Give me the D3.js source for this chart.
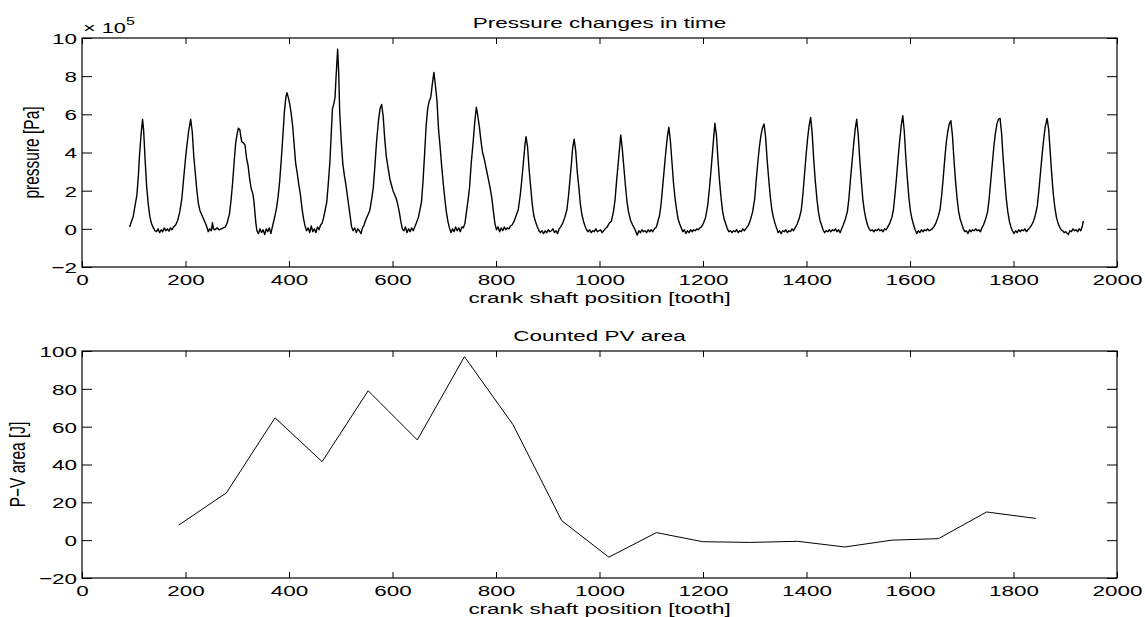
<!DOCTYPE html>
<html>
<head>
<meta charset="utf-8">
<script src="https://cdn.jsdelivr.net/npm/d3@7"></script>
<style>
body { margin: 0; background: #fff; }
text { font-family: "Liberation Sans", Arial, sans-serif; fill: #000; }
</style>
</head>
<body>
<div id="my_dataviz"></div>
<script>
// crank shaft position [tooth] vs pressure [x 10^5 Pa]
var pressureTrace = [
[92,0.1],[95,0.35],[99,0.65],[103,1.3],[106,1.75],[109,2.8],[111,3.8],[114,4.9],[117,5.74],[119,5.2],[122,3.6],[125,2.2],[128,1.3],[131,0.65],[134,0.3],[137,0.1],
[141,-0.1],[144,-0.15],[147,0],[150,-0.2],[153,-0.05],[156,-0.15],[159,0.05],[162,-0.1],[165,0],[168,-0.12],[171,0.05],[174,-0.05],[177,0.1],
[181,0.2],[185,0.45],[189,0.9],[193,1.6],[196,2.5],[199,3.4],[202,4.2],[206,5.1],[210,5.74],[213,5.1],[216,3.8],[219,2.9],[222,2],[225,1.3],[228,0.95],[232,0.7],[236,0.45],[240,0.2],
[244,-0.15],[247,0],[250,-0.1],[252,0.32],[254,0],[257,-0.05],[261,0.05],[265,-0.05],[269,0],[273,0.05],[277,0.1],
[281,0.35],[285,0.8],[288,1.5],[291,2.4],[294,3.5],[297,4.5],[300,5],[302,5.27],[305,5.2],[307,4.8],[309,4.55],[312,4.5],[315,4.4],[318,3.7],[321,3.3],[324,2.6],[327,2.1],[330,1.85],[332,1.5],[334,0.9],[336,0.3],
[338,-0.1],[341,-0.25],[344,0],[347,-0.2],[350,-0.05],[353,-0.3],[356,0],[359,-0.15],[362,0.05],[365,-0.25],[367,0],
[370,0.35],[373,0.7],[376,1.1],[379,1.7],[382,2.5],[385,3.6],[388,4.8],[391,6.1],[394,6.9],[396,7.13],[399,6.85],[401,6.6],[404,6.1],[407,5.4],[410,4.4],[413,3.4],[416,2.9],[419,2.3],[422,1.8],[425,1.1],[428,0.55],[431,0.15],
[434,-0.1],[437,0.05],[440,-0.2],[443,0.15],[446,-0.15],[449,0],[452,-0.2],[455,0.1],[458,-0.05],[461,0.2],
[464,0.3],[467,0.6],[470,1],[473,1.4],[476,2.4],[479,3.5],[482,5.2],[484,6.3],[487,6.6],[489,6.9],[491,8],[494,9.41],[496,8.2],[498,6.1],[501,4.6],[504,3.4],[507,2.8],[510,2.3],[513,1.7],[516,1.1],[519,0.5],[521,0.1],
[524,-0.1],[527,0.05],[530,-0.2],[533,0],[536,-0.1],[539,-0.25],[542,0.05],
[545,0.2],[548,0.45],[552,0.7],[556,0.95],[560,1.6],[563,2.2],[566,3.3],[569,4.5],[573,5.7],[576,6.3],[579,6.52],[582,5.9],[585,4.7],[588,3.8],[592,3.1],[595,2.6],[598,2.3],[601,2],[604,1.8],[607,1.6],[610,1.3],[613,0.9],[616,0.4],
[619,0],[622,-0.1],[625,0.1],[628,-0.2],[631,0],[634,-0.15],[637,0.05],[640,-0.1],[643,0.1],
[646,0.3],[650,0.6],[653,1],[656,1.4],[659,2.5],[662,3.9],[665,5.4],[668,6.3],[671,6.7],[674,6.9],[677,7.6],[680,8.2],[683,7.5],[686,6.7],[689,5.2],[692,4.3],[695,3.3],[698,2.4],[701,1.6],[704,0.9],[707,0.4],
[710,0.05],[713,-0.2],[716,0],[719,-0.15],[722,0.1],[725,-0.1],[728,0.05],[731,-0.15],[734,0.1],[737,0.05],
[740,0.3],[743,0.9],[746,1.5],[749,2.2],[752,3.4],[756,4.6],[759,5.6],[762,6.37],[765,5.9],[768,5.3],[771,4.6],[774,4],[777,3.7],[780,3.3],[783,2.9],[786,2.5],[789,2.1],[792,1.6],[795,0.9],[798,0.26],
[801,-0.05],[804,0.1],[807,-0.15],[810,0.05],[813,-0.1],[816,0.1],[819,-0.05],[822,0.05],[825,0],[828,0.15],
[831,0.2],[835,0.4],[839,0.7],[843,1],[847,1.8],[850,2.6],[853,3.5],[856,4.4],[858,4.83],[861,4.3],[864,3.1],[867,2.2],[870,1.3],[873,0.7],[876,0.4],[880,0.1],
[883,-0.1],[886,-0.2],[889,-0.1],[892,-0.25],[895,-0.1],[898,-0.2],[901,-0.05],[904,-0.15],[907,-0.1],[910,0],[913,-0.2],[916,-0.1],[919,-0.25],[922,0],
[925,0.1],[929,0.3],[933,0.6],[937,1],[940,1.7],[943,2.6],[946,3.5],[948,4.2],[951,4.7],[954,4.1],[957,3],[960,2.2],[963,1.3],[966,0.75],[969,0.4],[972,0.15],
[975,-0.05],[978,-0.15],[981,-0.05],[984,-0.2],[987,-0.1],[990,-0.15],[993,0],[996,-0.15],[999,-0.1],[1002,-0.05],[1005,-0.2],[1008,-0.1],[1011,0],
[1015,0.1],[1019,0.3],[1023,0.4],[1027,0.9],[1030,1.5],[1033,2.5],[1036,3.4],[1039,4.3],[1041,4.92],[1044,4.2],[1047,3.25],[1050,2.3],[1053,1.45],[1056,0.9],[1060,0.45],[1064,0.2],
[1068,0],[1071,-0.2],[1073,-0.33],[1076,-0.1],[1079,-0.2],[1082,-0.05],[1085,-0.15],[1088,-0.1],[1091,-0.2],[1094,-0.05],[1097,-0.15],[1100,-0.05],[1103,-0.15],[1106,0],
[1110,0.1],[1113,0.4],[1116,0.7],[1119,1.3],[1122,2.2],[1125,3.1],[1128,4],[1131,4.8],[1134,5.32],[1137,4.6],[1140,3.5],[1143,2.4],[1146,1.6],[1149,1],[1152,0.5],[1155,0.25],
[1158,0.05],[1161,-0.15],[1164,-0.05],[1167,-0.25],[1170,-0.1],[1173,-0.2],[1176,-0.05],[1179,-0.15],[1182,-0.05],[1185,-0.1],[1188,0],[1191,-0.05],[1194,0.05],
[1197,0.1],[1201,0.3],[1205,0.6],[1209,1.2],[1212,2],[1215,2.9],[1218,3.9],[1221,4.9],[1223,5.53],[1226,4.9],[1229,3.6],[1232,2.5],[1235,1.6],[1238,0.9],[1241,0.5],[1244,0.25],
[1247,0],[1250,-0.15],[1253,-0.1],[1256,-0.2],[1259,-0.1],[1262,-0.15],[1265,-0.05],[1268,-0.2],[1271,-0.1],[1274,-0.15],[1277,0],[1280,-0.1],
[1284,0.05],[1288,0.2],[1292,0.5],[1296,0.9],[1300,1.6],[1303,2.6],[1306,3.5],[1309,4.3],[1312,4.9],[1315,5.3],[1318,5.49],[1321,4.8],[1324,3.6],[1327,2.6],[1330,1.7],[1333,1],[1336,0.6],[1339,0.3],
[1342,0.05],[1345,-0.2],[1348,-0.1],[1351,-0.25],[1354,-0.1],[1357,-0.15],[1360,-0.05],[1363,-0.2],[1366,-0.1],[1369,-0.15],[1372,0],[1375,-0.1],
[1378,0.05],[1382,0.25],[1386,0.55],[1390,1],[1393,1.8],[1396,2.8],[1399,3.8],[1402,4.7],[1405,5.4],[1408,5.84],[1411,5],[1414,3.6],[1417,2.5],[1420,1.6],[1423,0.9],[1426,0.45],[1429,0.2],
[1432,-0.05],[1435,-0.2],[1438,-0.1],[1441,-0.15],[1444,-0.05],[1447,-0.15],[1450,-0.05],[1453,-0.1],[1456,0],[1459,-0.15],[1462,-0.05],[1465,-0.2],[1468,0],
[1471,0.2],[1475,0.5],[1479,0.9],[1482,1.6],[1485,2.6],[1488,3.5],[1491,4.4],[1494,5.2],[1497,5.74],[1500,4.9],[1503,3.6],[1506,2.5],[1509,1.5],[1512,0.9],[1515,0.5],[1518,0.2],
[1521,0],[1524,-0.1],[1527,-0.05],[1530,-0.15],[1533,-0.05],[1536,-0.1],[1539,0],[1542,-0.1],[1545,-0.05],[1548,-0.15],[1551,0],[1554,-0.05],
[1557,0.1],[1561,0.3],[1565,0.6],[1568,1],[1571,1.8],[1574,2.7],[1577,3.7],[1580,4.6],[1583,5.4],[1586,5.93],[1589,5.1],[1592,3.7],[1595,2.6],[1598,1.6],[1601,0.9],[1604,0.5],[1607,0.2],
[1610,-0.05],[1613,-0.25],[1616,-0.1],[1619,-0.2],[1622,-0.05],[1625,-0.15],[1628,-0.05],[1631,-0.1],[1634,0],[1637,-0.1],[1640,-0.05],[1643,0],
[1646,0.1],[1650,0.3],[1654,0.6],[1658,1],[1661,1.7],[1664,2.6],[1667,3.6],[1670,4.5],[1673,5.1],[1676,5.5],[1679,5.67],[1682,4.9],[1685,3.6],[1688,2.5],[1691,1.6],[1694,0.9],[1697,0.5],[1700,0.25],
[1703,0],[1706,-0.15],[1709,-0.1],[1712,-0.25],[1715,-0.05],[1718,-0.15],[1721,-0.05],[1724,-0.1],[1727,0],[1730,-0.1],[1733,-0.05],[1736,-0.15],[1739,0.05],
[1742,0.2],[1746,0.5],[1750,0.9],[1753,1.6],[1756,2.5],[1759,3.4],[1762,4.3],[1765,5],[1768,5.5],[1771,5.75],[1774,5.79],[1777,5],[1780,3.7],[1783,2.6],[1786,1.6],[1789,0.9],[1792,0.4],[1795,0.1],
[1798,-0.1],[1801,-0.25],[1804,-0.1],[1807,-0.2],[1810,-0.05],[1813,-0.15],[1816,-0.05],[1819,-0.1],[1822,0],[1825,-0.15],[1828,-0.05],
[1831,0.05],[1834,0.15],[1838,0.35],[1842,0.7],[1846,1.2],[1849,2],[1852,2.9],[1855,3.8],[1858,4.6],[1861,5.3],[1865,5.79],[1868,5.2],[1871,4],[1874,2.8],[1877,1.8],[1880,1.1],[1883,0.6],[1886,0.3],[1889,0.1],
[1892,-0.05],[1895,-0.1],[1898,-0.2],[1901,-0.15],[1904,-0.25],[1906,-0.3],[1909,-0.1],[1912,-0.15],[1915,0],[1918,-0.1],[1921,-0.05],[1924,-0.15],[1927,0],[1930,-0.1],[1933,0.15],[1935,0.41]
];

// counted PV area per cycle
var pvTooth = [187,279,373,464,553,648,739,833,927,1018,1110,1199,1290,1383,1474,1565,1655,1748,1843];
var pvArea  = [8,25,64.7,41.5,79,53,97,61,10.3,-9,4,-0.8,-1.2,-0.6,-3.6,0,0.8,14.9,11.5];

var xTicks = [0,200,400,600,800,1000,1200,1400,1600,1800,2000];
var pressureTicks = [-2,0,2,4,6,8,10];
var pvTicks = [-20,0,20,40,60,80,100];

var W = 1145, H = 617;
var stretch = 1.45;   // the figure text is drawn wide
var fs = 15.5;

var svg = d3.select('#my_dataviz')
.append('svg')
.attr('width', W)
.attr('height', H);

function wideText(g, x, y, str, anchor, rot) {
  return g.append('text')
  .attr('transform', 'translate(' + x + ',' + y + ') scale(' + stretch + ',1)' + (rot ? ' rotate(-90)' : ''))
  .attr('text-anchor', anchor)
  .style('font-size', fs + 'px')
  .text(str);
}

function fmt(d) { return d < 0 ? '\u2212' + (-d) : '' + d; }

function panel(top, height, yDomain, yTicks, title) {
  var left = 82, width = 1035;
  var g = svg.append('g').attr('transform', 'translate(' + left + ',' + top + ')');

  var x = d3.scaleLinear().domain([0, 2000]).range([0, width]);
  var y = d3.scaleLinear().domain(yDomain).range([height, 0]);

  // bottom axis with labels, ticks inside
  var xb = g.append('g').attr('transform', 'translate(0,' + height + ')')
  .call(d3.axisBottom(x).tickValues(xTicks).tickFormat(fmt).tickSizeInner(-6).tickSizeOuter(0).tickPadding(0));
  xb.selectAll('text').attr('y', null).attr('dy', null)
  .attr('transform', 'translate(0,' + 18 + ') scale(' + stretch + ',1)')
  .style('font-size', fs + 'px');
  // top axis, ticks only
  g.append('g')
  .call(d3.axisTop(x).tickValues(xTicks).tickFormat('').tickSizeInner(-6).tickSizeOuter(0));

  var yl = g.append('g')
  .call(d3.axisLeft(y).tickValues(yTicks).tickFormat(fmt).tickSizeInner(-10).tickSizeOuter(0).tickPadding(0));
  yl.selectAll('text').attr('x', null).attr('dy', '0.35em')
  .attr('transform', 'translate(-5,0) scale(' + stretch + ',1)')
  .style('font-size', fs + 'px');
  g.append('g').attr('transform', 'translate(' + width + ',0)')
  .call(d3.axisRight(y).tickValues(yTicks).tickFormat('').tickSizeInner(-10).tickSizeOuter(0));

  g.selectAll('.domain').remove();
  g.selectAll('.tick line').attr('stroke', '#000').attr('stroke-width', 1);
  g.append('rect')
  .attr('x', 0).attr('y', 0).attr('width', width).attr('height', height)
  .attr('fill', 'none').attr('stroke', '#000').attr('stroke-width', 1.2);

  wideText(g, width / 2, -10, title, 'middle');
  wideText(g, width / 2, height + 36, 'crank shaft position [tooth]', 'middle');
  return {g: g, x: x, y: y};
}

// upper panel
var p1 = panel(38, 229, [-2, 10], pressureTicks, 'Pressure changes in time');
wideText(svg, 39, 152.5, 'pressure [Pa]', 'middle', true);
var mult = svg.append('text')
.attr('transform', 'translate(83,33) scale(' + stretch + ',1)')
.style('font-size', '15px');
mult.append('tspan').text('\u00d7 10');
mult.append('tspan').attr('dy', -8).style('font-size', '11px').text('5');

p1.g.append('path')
.datum(pressureTrace)
.attr('fill', 'none')
.attr('stroke', '#000')
.attr('stroke-width', 1.4)
.attr('stroke-linejoin', 'round')
.attr('d', d3.line().x(function(d) { return p1.x(d[0]); }).y(function(d) { return p1.y(d[1]); }));

// lower panel
var p2 = panel(351, 227, [-20, 100], pvTicks, 'Counted PV area');
wideText(svg, 25, 464.5, 'P\u2212V area [J]', 'middle', true);

p2.g.append('path')
.datum(d3.range(pvTooth.length))
.attr('fill', 'none')
.attr('stroke', '#000')
.attr('stroke-width', 1)
.attr('d', d3.line().x(function(i) { return p2.x(pvTooth[i]); }).y(function(i) { return p2.y(pvArea[i]); }));
</script>
</body>
</html>
